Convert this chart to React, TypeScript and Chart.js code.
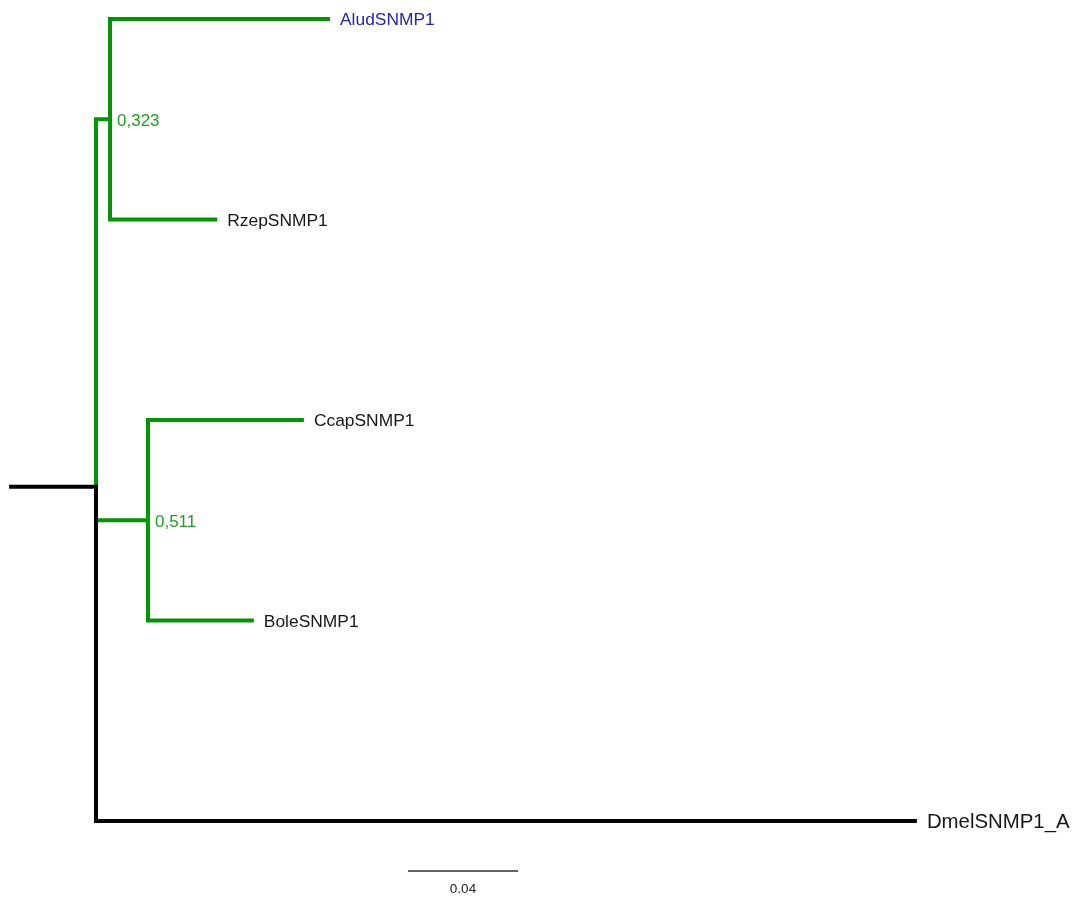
import { useEffect, useRef } from "react";
import { Chart, registerables } from "chart.js";

Chart.register(...registerables);

// Leaves, top to bottom
const taxa = ["AludSNMP1", "RzepSNMP1", "CcapSNMP1", "BoleSNMP1", "DmelSNMP1_A"];
// Terminal branch lengths (substitutions/site)
const tipLengths = [0.08, 0.039, 0.0567, 0.0385, 0.2985];
const tipColors = ["#2626a8", "#161616", "#161616", "#161616", "#161616"];
const tipFontSizes = [17.4, 17.4, 17.4, 17.4, 20.4];
// Ingroup clades: leaf indices, stem lengths from the root, support values
const clades = [
  [0, 1],
  [2, 3],
];
const cladeStems = [0.0051, 0.0189];
const cladeSupport = ["0,323", "0,511"];
const outgroupIndex = 4;
const rootStub = 0.0316;
// Scale bar
const scaleBarValue = 0.04;
const scaleBarText = "0.04";

const W = 1073;
const H = 897;
const PX_PER_UNIT = 2750;
const ROOT_PX = 96;
const LEAF0_PX = 19;
const LEAF_STEP_PX = 200.5;

const GREEN = "#009600";
const GREEN_TEXT = "#1f9f1f";
const BLACK = "#000000";
const FONT = '"Liberation Sans", Arial, sans-serif';

const mean = (a: number[]) => a.reduce((s, v) => s + v, 0) / a.length;

export default function App() {
  const ref = useRef<HTMLCanvasElement | null>(null);

  useEffect(() => {
    if (!ref.current) return;

    const cladeY = clades.map((c) => mean(c));
    const cladeX = cladeStems;
    const tipX = taxa.map((_, i) => {
      const k = clades.findIndex((c) => c.includes(i));
      return k >= 0 ? cladeX[k] + tipLengths[i] : tipLengths[i];
    });
    const rootY = mean([...cladeY, outgroupIndex]);

    const sbX = (408 - ROOT_PX) / PX_PER_UNIT;
    const sbY = (871 - LEAF0_PX) / LEAF_STEP_PX;

    const base = {
      showLine: true,
      pointRadius: 0,
      pointHoverRadius: 0,
      borderWidth: 4,
      fill: false,
      tension: 0,
      borderJoinStyle: "miter" as const,
      borderCapStyle: "butt" as const,
      clip: false as const,
    };

    const cladeSets = clades.map((c, k) => ({
      ...base,
      borderColor: GREEN,
      order: 2,
      data: [
        { x: tipX[c[0]], y: c[0] },
        { x: cladeX[k], y: c[0] },
        { x: cladeX[k], y: c[1] },
        { x: tipX[c[1]], y: c[1] },
      ],
    }));

    const datasets: any[] = [
      ...cladeSets,
      {
        ...base,
        borderColor: GREEN,
        order: 2,
        data: [
          { x: cladeX[0], y: cladeY[0] },
          { x: 0, y: cladeY[0] },
          { x: 0, y: rootY },
        ],
      },
      {
        ...base,
        borderColor: GREEN,
        order: 2,
        data: [
          { x: 0, y: cladeY[1] },
          { x: cladeX[1], y: cladeY[1] },
        ],
      },
      {
        ...base,
        borderColor: BLACK,
        order: 1,
        data: [
          { x: -rootStub, y: rootY },
          { x: 0, y: rootY },
          { x: 0, y: outgroupIndex },
          { x: tipX[outgroupIndex], y: outgroupIndex },
        ],
      },
      {
        ...base,
        borderColor: "#303030",
        borderWidth: 1.3,
        order: 0,
        data: [
          { x: sbX, y: sbY },
          { x: sbX + scaleBarValue, y: sbY },
        ],
      },
    ];

    const labels = {
      id: "treeLabels",
      afterDatasetsDraw(chart: any) {
        const { ctx, scales } = chart;
        const xs = scales.x;
        const ys = scales.y;
        ctx.save();
        ctx.textBaseline = "alphabetic";
        ctx.textAlign = "left";
        taxa.forEach((t, i) => {
          const size = tipFontSizes[i];
          ctx.font = `${size}px ${FONT}`;
          ctx.fillStyle = tipColors[i];
          ctx.fillText(
            t,
            xs.getPixelForValue(tipX[i]) + 10,
            ys.getPixelForValue(i) + size * 0.36
          );
        });
        ctx.font = `17px ${FONT}`;
        ctx.fillStyle = GREEN_TEXT;
        cladeSupport.forEach((s, k) => {
          ctx.fillText(s, xs.getPixelForValue(cladeX[k]) + 7, ys.getPixelForValue(cladeY[k]) + 7);
        });
        ctx.fillStyle = "#222";
        ctx.font = `13.5px ${FONT}`;
        ctx.textAlign = "center";
        ctx.fillText(
          scaleBarText,
          xs.getPixelForValue(sbX + scaleBarValue / 2),
          ys.getPixelForValue(sbY) + 22
        );
        ctx.restore();
      },
    };

    const chart = new Chart(ref.current, {
      type: "scatter",
      data: { datasets },
      options: {
        animation: false,
        responsive: false,
        events: [],
        layout: { padding: 0 },
        plugins: { legend: { display: false }, tooltip: { enabled: false } },
        scales: {
          x: {
            type: "linear",
            display: false,
            min: -ROOT_PX / PX_PER_UNIT,
            max: (W - ROOT_PX) / PX_PER_UNIT,
          },
          y: {
            type: "linear",
            display: false,
            reverse: true,
            min: -LEAF0_PX / LEAF_STEP_PX,
            max: (H - LEAF0_PX) / LEAF_STEP_PX,
          },
        },
      },
      plugins: [labels],
    });

    return () => chart.destroy();
  }, []);

  return (
    <div style={{ position: "fixed", left: 0, top: 0, width: W, height: H, background: "#fff" }}>
      <canvas ref={ref} width={W} height={H} style={{ display: "block", width: W, height: H }} />
    </div>
  );
}
